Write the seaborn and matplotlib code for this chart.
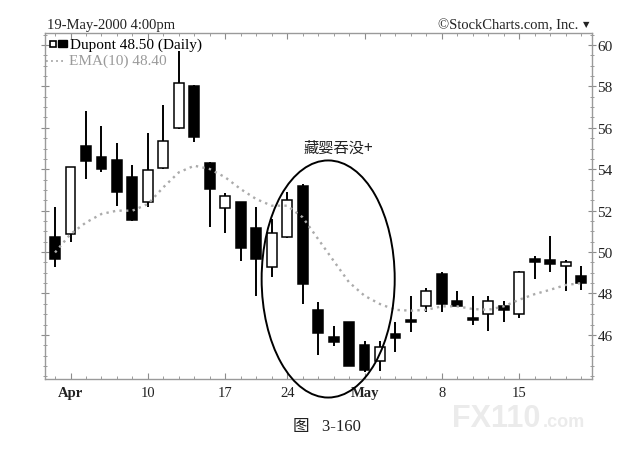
import numpy as np
import matplotlib
matplotlib.use("Agg")
import matplotlib.pyplot as plt
import seaborn as sns
from matplotlib.patches import Ellipse, Rectangle

# Daily Dupont prices, 31-Mar-2000 .. 19-May-2000
days = ["Mar 31",
        "Apr 3", "Apr 4", "Apr 5", "Apr 6", "Apr 7",
        "Apr 10", "Apr 11", "Apr 12", "Apr 13", "Apr 14",
        "Apr 17", "Apr 18", "Apr 19", "Apr 20",
        "Apr 24", "Apr 25", "Apr 26", "Apr 27", "Apr 28",
        "May 1", "May 2", "May 3", "May 4", "May 5",
        "May 8", "May 9", "May 10", "May 11", "May 12",
        "May 15", "May 16", "May 17", "May 18", "May 19"]
opens = [50.74, 50.87, 55.10, 54.57, 54.44, 53.64, 52.40, 54.04, 56.00, 58.03,
         54.30, 52.11, 52.43, 51.16, 49.29, 50.71, 53.20, 47.21, 45.88, 46.63,
         45.51, 44.75, 46.04, 46.71, 47.41, 48.94, 47.65, 46.84, 47.00, 47.41,
         47.00, 49.66, 49.63, 49.31, 48.83]
highs = [52.16, 54.09, 56.83, 56.07, 55.25, 54.20, 55.75, 57.10, 59.71, 58.08,
         54.33, 52.85, 52.43, 52.16, 51.59, 52.91, 53.29, 47.60, 46.41, 46.63,
         45.70, 45.72, 46.60, 47.89, 48.26, 49.02, 48.13, 47.89, 47.86, 47.65,
         49.10, 49.79, 50.76, 49.63, 49.31]
lows = [49.29, 50.47, 53.53, 53.88, 52.24, 51.50, 52.16, 54.00, 55.94, 55.33,
        51.19, 50.90, 49.58, 47.89, 48.78, 50.68, 47.49, 45.04, 45.47, 44.51,
        44.19, 44.27, 45.16, 46.12, 47.09, 47.09, 47.38, 46.47, 46.20, 46.63,
        46.84, 48.70, 49.05, 48.13, 48.18]
closes = [49.66, 54.09, 54.41, 54.01, 52.88, 51.56, 53.96, 55.38, 58.18, 55.57,
          53.04, 52.72, 50.18, 49.66, 50.92, 52.53, 48.45, 46.09, 45.64, 44.51,
          44.31, 45.40, 45.85, 46.60, 48.13, 47.49, 47.41, 46.73, 47.65, 47.21,
          49.05, 49.53, 49.42, 49.50, 48.50]
ema10 = [49.98, 50.87, 51.43, 51.84, 52.00, 52.00, 52.32, 53.13, 53.85, 54.17,
         54.01, 53.61, 53.04, 52.56, 52.24, 52.24, 51.68, 50.63, 49.58, 48.54,
         47.89, 47.49, 47.21, 47.17, 47.21, 47.38, 47.38, 47.25, 47.21, 47.38,
         47.70, 47.97, 48.18, 48.41, 48.50]

tick_days = ["Apr 3", "Apr 10", "Apr 17", "Apr 24", "May 1", "May 8", "May 15"]
tick_labels = ["Apr", "10", "17", "24", "May", "8", "15"]
price_ticks = [46, 48, 50, 52, 54, 56, 58, 60]

sns.set_theme(style="white")
plt.rcParams["font.family"] = ["Liberation Serif", "Noto Sans CJK SC", "DejaVu Sans"]

W, H = 626, 456
fig = plt.figure(figsize=(W / 100, H / 100), dpi=100)
ax = fig.add_axes([45 / W, 76 / H, 547 / W, 346 / H])

x = np.arange(len(days))
o = np.array(opens)
c = np.array(closes)
up = c >= o

# wicks and bodies
ax.vlines(x, lows, highs, color="black", lw=1.4, zorder=2)
ax.bar(x, np.abs(c - o), bottom=np.minimum(o, c), width=0.64,
       color=np.where(up, "white", "black"), edgecolor="black",
       linewidth=1.1, zorder=3)

# EMA(10)
sns.lineplot(x=x, y=ema10, ax=ax, color="#ababab", lw=1.7,
             linestyle=(0, (1, 1.8)), zorder=4)

ax.set_xlim(-0.65, 34.7)
ax.set_ylim(43.87, 60.58)

# axes / ticks
ax.yaxis.tick_right()
ax.set_yticks(price_ticks)
ax.set_yticklabels([str(p) for p in price_ticks])
ax.set_yticks(np.arange(44, 60.6, 0.5), minor=True)
ax.set_xticks([days.index(d) for d in tick_days])
ax.set_xticklabels(tick_labels)
for lab in ax.get_xticklabels():
    if lab.get_text() in ("Apr", "May"):
        lab.set_fontweight("bold")
ax.set_xticks(x, minor=True)
ax.tick_params(axis="y", which="both", left=True, right=True, labelleft=False,
               labelright=True, direction="inout", color="#8c8c8c",
               labelsize=11, pad=1, labelcolor="#222222")
ax.tick_params(axis="y", which="major", length=6, width=0.8)
ax.tick_params(axis="y", which="minor", length=3, width=0.6)
ax.tick_params(axis="x", which="both", bottom=True, top=True, direction="in",
               color="#8c8c8c", labelsize=10.5, pad=5, labelcolor="#222222")
ax.tick_params(axis="x", which="major", length=4, width=0.8)
ax.tick_params(axis="x", which="minor", length=2, width=0.6)
for s in ax.spines.values():
    s.set_color("#9a9a9a")
    s.set_linewidth(1.0)
    s.set_linestyle((0, (3, 1)))
ax.grid(False)

# legend block (small candle icon, then texts)
ax.add_patch(Rectangle((5 / 547, 1 - 14 / 346), 6 / 547, 6 / 346,
                       transform=ax.transAxes, facecolor="white",
                       edgecolor="black", lw=1.2, zorder=5))
ax.add_patch(Rectangle((13 / 547, 1 - 14 / 346), 9 / 547, 7 / 346,
                       transform=ax.transAxes, facecolor="black",
                       edgecolor="black", lw=1.0, zorder=5))
ax.text(25 / 547, 1 - 15 / 346, "Dupont 48.50 (Daily)", transform=ax.transAxes,
        fontsize=11, color="black", va="baseline", ha="left")
ax.plot([1 / 547, 20 / 547], [1 - 28 / 346, 1 - 28 / 346], transform=ax.transAxes,
        color="#a8a8a8", lw=1.3, linestyle=(0, (1, 1.8)))
ax.text(24 / 547, 1 - 31 / 346, "EMA(10) 48.40", transform=ax.transAxes,
        fontsize=11, color="#9a9a9a", va="baseline", ha="left")

# pattern marker
ax.add_patch(Ellipse((17.65, 48.70), width=8.6, height=11.45, fill=False,
                     edgecolor="black", lw=1.4, clip_on=False, zorder=6))
ax.text(18.3, 55.07, "藏婴吞没+", fontsize=11, ha="center", va="center",
        family=["Noto Sans CJK SC", "DejaVu Sans"], color="#222222")

# header
fig.text(47 / W, 1 - 29 / H, "19-May-2000 4:00pm", fontsize=10.5,
         ha="left", va="baseline", color="#222222")
fig.text(578 / W, 1 - 29 / H, "©StockCharts.com, Inc.", fontsize=10.5,
         ha="right", va="baseline", color="#222222")
fig.text(586 / W, 1 - 25 / H, "▼", fontsize=6, ha="center", va="center",
         family=["DejaVu Sans"], color="#222222")

# watermark and caption
fig.text(452 / W, 1 - 427 / H, "FX110", fontsize=22, fontweight="bold",
         ha="left", va="baseline", color="#ebebeb", family=["Liberation Sans"],
         zorder=0)
fig.text(543 / W, 1 - 427 / H, ".com", fontsize=13, fontweight="bold",
         ha="left", va="baseline", color="#ebebeb", family=["Liberation Sans"],
         zorder=0)
fig.text(327 / W, 1 - 427 / H, "图   3-160", fontsize=12, ha="center",
         va="center", color="#222222")

fig.savefig("out.png", dpi=100)
